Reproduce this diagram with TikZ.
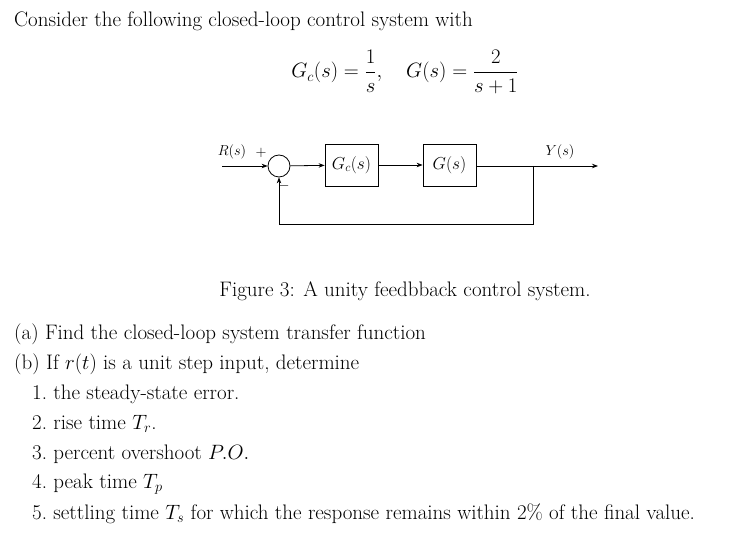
\documentclass[tikz,border=0pt]{standalone}
\usepackage{amsmath}
\usetikzlibrary{arrows.meta}
\begin{document}
\begin{tikzpicture}[x=1pt,y=-1pt,
  txt/.style={anchor=west,inner sep=0pt,font=\fontsize{21}{24}\selectfont},
  blk/.style={draw,thick,minimum width=53pt,minimum height=42pt,inner sep=0pt,font=\fontsize{17}{19}\selectfont},
  sig/.style={thick,-{Stealth[length=6pt]}},
  lbl/.style={inner sep=0pt,font=\fontsize{15}{17}\selectfont}]
\useasboundingbox (0,0) rectangle (732,545);
\node[txt] (t0) at (14,21) {Consider the following closed-loop control system with};
\node[inner sep=0pt,font=\fontsize{20.5}{24}\selectfont] (eq) at (405,72) {$G_c(s)=\dfrac{1}{s},\quad G(s)=\dfrac{2}{s+1}$};
\coordinate (in) at (222,166);
\node[draw,thick,circle,minimum size=22pt,inner sep=0pt] (sum) at (279,166) {};
\node[blk] (gc) at (351.5,165) {$G_c(s)$};
\node[blk] (g) at (449.5,165) {$G(s)$};
\coordinate (br) at (533,166);
\coordinate (out) at (598,166);
\coordinate (fb1) at (533,224);
\coordinate (fb2) at (279,224);
\draw[sig] (in) -- (sum);
\draw[sig] (sum) -- (gc);
\draw[sig] (gc) -- (g);
\draw[sig] (g.east|-br) -- (out);
\draw[sig] (br) -- (fb1) -- (fb2) -- (sum);
\node[lbl] (r) at (232,152) {$R(s)$};
\node[lbl] (p) at (261,153) {$+$};
\node[lbl] (y) at (560,152) {$Y(s)$};
\node[lbl] (m) at (284,186) {$-$};
\node[inner sep=0pt,font=\fontsize{21}{24}\selectfont] (cap) at (405,291) {Figure 3: A unity feedbback control system.};
\node[txt] (a) at (14,334) {(a) Find the closed-loop system transfer function};
\node[txt] (b) at (14,364) {(b) If $r(t)$ is a unit step input, determine};
\node[txt] (i1) at (32,394) {1.\ the steady-state error.};
\node[txt] (i2) at (32,424) {2.\ rise time $T_r$.};
\node[txt] (i3) at (32,454) {3.\ percent overshoot $P.O.$};
\node[txt] (i4) at (32,484) {4.\ peak time $T_p$};
\node[txt] (i5) at (32,514) {5.\ settling time $T_s$ for which the response remains within 2\% of the final value.};
\end{tikzpicture}
\end{document}
